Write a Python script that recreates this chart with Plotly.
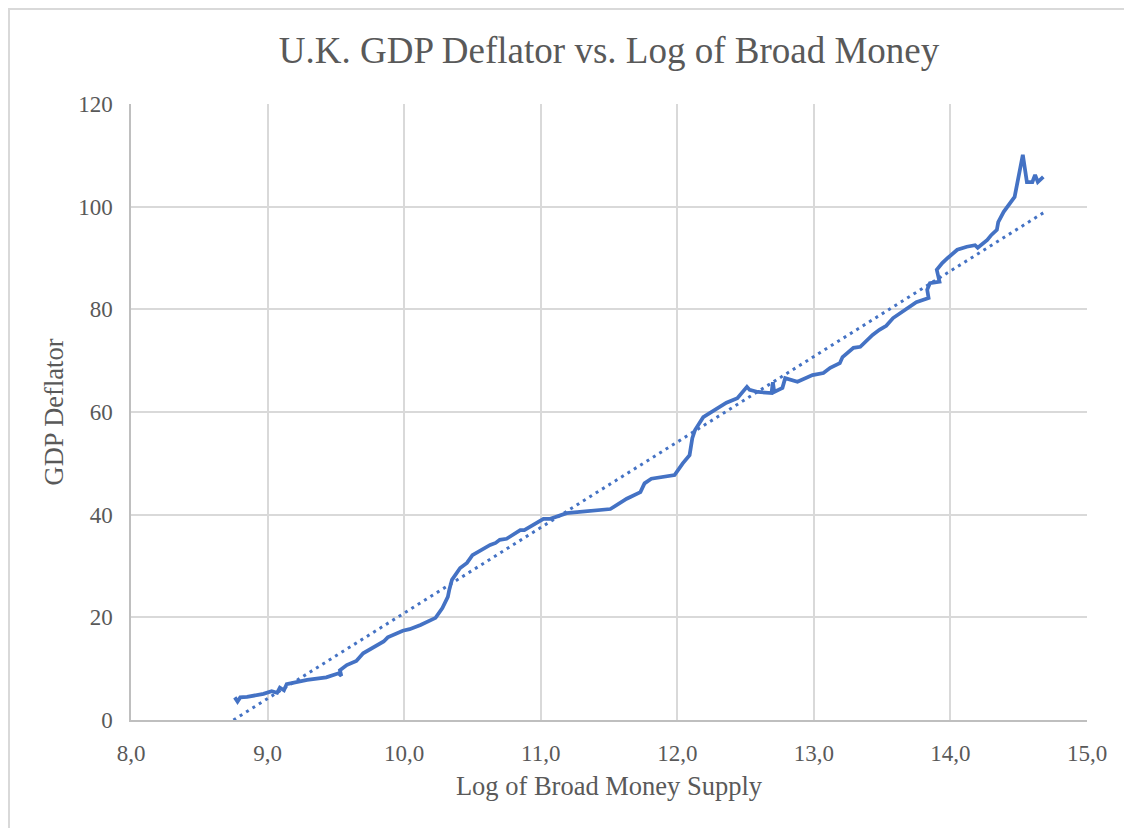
import plotly.graph_objects as go

# Log of broad money supply (x) and GDP deflator (y)
log_money = [
    8.76, 8.78, 8.80, 8.85, 8.97, 9.03, 9.07, 9.09, 9.12, 9.14,
    9.29, 9.43, 9.52, 9.54, 9.53, 9.58, 9.65, 9.70, 9.85, 9.88,
    9.99, 10.04, 10.12, 10.19, 10.23, 10.28, 10.32, 10.33, 10.35, 10.41,
    10.46, 10.50, 10.63, 10.67, 10.70, 10.75, 10.80, 10.85, 10.88, 10.94,
    11.02, 11.07, 11.19, 11.51, 11.63, 11.73, 11.76, 11.81, 11.98, 12.04,
    12.09, 12.11, 12.13, 12.19, 12.24, 12.30, 12.36, 12.44, 12.51, 12.53,
    12.59, 12.69, 12.70, 12.71, 12.77, 12.79, 12.88, 12.99, 13.07, 13.12,
    13.19, 13.21, 13.29, 13.34, 13.43, 13.48, 13.53, 13.58, 13.65, 13.75,
    13.84, 13.83, 13.85, 13.92, 13.90, 13.94, 13.98, 14.05, 14.12, 14.18,
    14.20, 14.27, 14.30, 14.34, 14.35, 14.39, 14.47, 14.53, 14.56, 14.60,
    14.62, 14.64, 14.68,
]
gdp_deflator = [
    4.4, 3.6, 4.4, 4.5, 5.1, 5.6, 5.3, 6.3, 5.8, 7.0,
    7.8, 8.3, 9.1, 8.6, 9.7, 10.7, 11.5, 13.0, 15.3, 16.1,
    17.4, 17.7, 18.5, 19.5, 19.9, 21.8, 24.0, 25.3, 27.3, 29.6,
    30.6, 32.1, 34.1, 34.5, 35.1, 35.3, 36.2, 37.0, 37.0, 38.0,
    39.2, 39.2, 40.3, 41.1, 43.1, 44.4, 46.1, 47.0, 47.7, 50.0,
    51.6, 54.9, 56.5, 59.0, 59.8, 60.8, 61.8, 62.7, 64.9, 64.3,
    63.9, 63.7, 65.8, 63.9, 64.7, 66.6, 65.9, 67.2, 67.6, 68.6,
    69.5, 70.7, 72.5, 72.7, 75.0, 76.0, 76.8, 78.3, 79.5, 81.4,
    82.2, 83.8, 85.1, 85.4, 87.7, 89.0, 90.0, 91.6, 92.2, 92.5,
    92.0, 93.5, 94.5, 95.5, 97.0, 99.0, 101.9, 110.1, 104.8, 104.8,
    106.2, 104.8, 105.8,
]

# linear trendline end points
trend_x = [8.75, 14.68]
trend_y = [0.0, 98.8]

BLUE = "#4472C4"
GRAY_TXT = "#595959"
FONT = "Liberation Serif, Times New Roman, serif"

W, H = 1132, 828
ML, MR, MT, MB = 123, 53, 96, 116

fig = go.Figure()
fig.add_trace(go.Scatter(x=log_money, y=gdp_deflator, mode="lines",
                         line=dict(color=BLUE, width=3.75), showlegend=False))
fig.add_trace(go.Scatter(x=trend_x, y=trend_y, mode="lines",
                         line=dict(color=BLUE, width=3, dash="3px,4.5px"),
                         showlegend=False))

fig.update_layout(
    width=W, height=H,
    margin=dict(l=ML, r=MR, t=MT, b=MB),
    paper_bgcolor="white", plot_bgcolor="white",
    separators=",.",
    font=dict(family=FONT, color=GRAY_TXT, size=23),
    title=dict(text="U.K. GDP Deflator vs. Log of Broad Money",
               x=(ML + (W - ML - MR) / 2) / W, xanchor="center",
               y=1 - 42 / H, yanchor="middle",
               font=dict(family=FONT, size=37, color=GRAY_TXT)),
    xaxis=dict(range=[8, 15], dtick=1, tick0=8, tickformat=".1f",
               showgrid=True, gridcolor="#D9D9D9", gridwidth=1.5,
               showline=True, linecolor="#BFBFBF", linewidth=1.5,
               zeroline=False, ticks="", ticklabelstandoff=12,
               title=dict(text="Log of Broad Money Supply", standoff=11,
                          font=dict(size=26.5))),
    yaxis=dict(range=[0, 120], dtick=20,
               showgrid=True, gridcolor="#D9D9D9", gridwidth=1.5,
               showline=True, linecolor="#BFBFBF", linewidth=1.5,
               zeroline=False, ticks="", ticklabelstandoff=12,
               title=dict(text="GDP Deflator", standoff=7,
                          font=dict(size=26.5))),
)

# chart frame lines (figure coordinates in px, converted to paper)
pw, ph = W - ML - MR, H - MT - MB
def px_x(v):
    return (v - ML) / pw
def px_y(v):
    return (H - MB - v) / ph

frame = dict(color="#D9D9D9", width=2)
fig.add_shape(type="line", xref="paper", yref="paper",
              x0=px_x(0), x1=px_x(W), y0=px_y(1), y1=px_y(1), line=frame)
fig.add_shape(type="line", xref="paper", yref="paper",
              x0=px_x(1), x1=px_x(1), y0=px_y(1), y1=px_y(H), line=frame)

fig.write_html("out.html")
